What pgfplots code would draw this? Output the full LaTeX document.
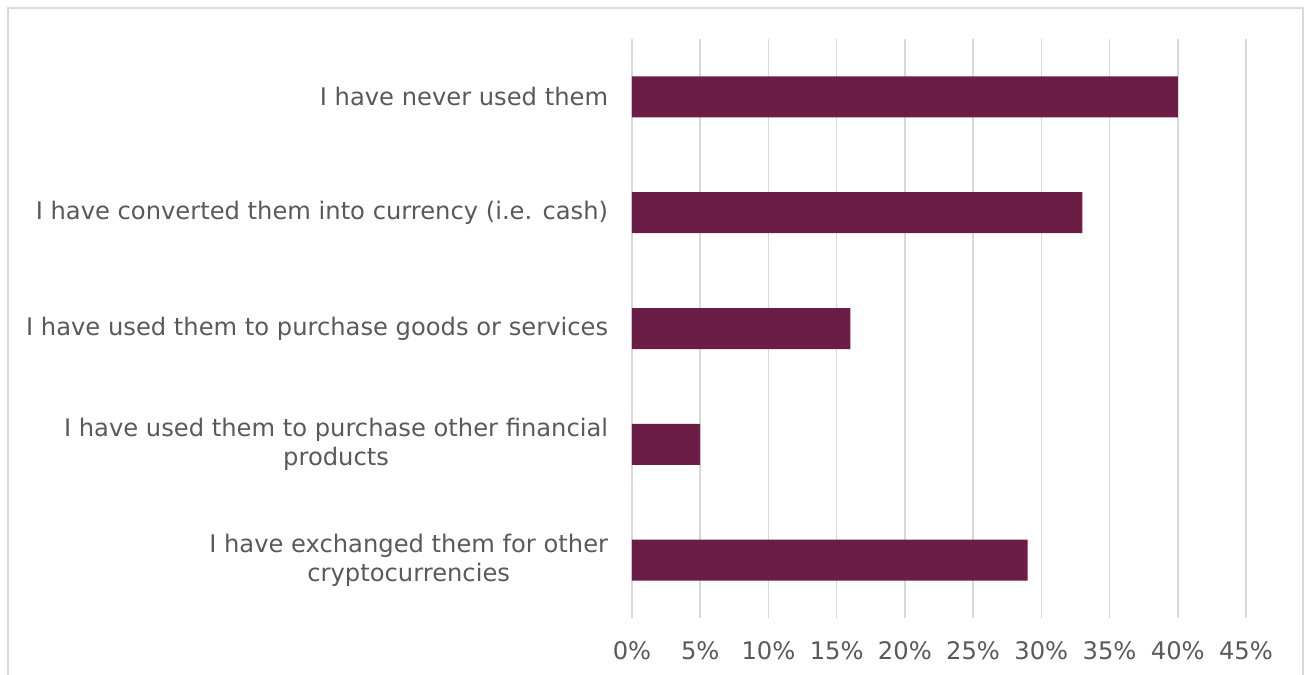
\documentclass[border=0pt]{standalone}
\usepackage{fontspec}
\setmainfont{DejaVu Sans}
\usepackage{pgfplots}
\pgfplotsset{compat=1.18}
\definecolor{barc}{HTML}{6B1D45}
\definecolor{txt}{HTML}{595959}
\definecolor{gridc}{HTML}{D9D9D9}
\begin{document}
\fontsize{12bp}{14.5bp}\selectfont
\begin{tikzpicture}
\begin{scope}
\clip (-316bp,-28.5bp) rectangle (338bp,309bp);
\draw[gridc, line width=1bp] (-312bp,-40bp) rectangle (335.5bp,305bp);
\end{scope}
\begin{axis}[
  at={(0,0)}, anchor=south west,
  width=307bp, height=289.5bp, scale only axis,
  xmin=0, xmax=45, ymin=-0.5, ymax=4.5,
  xbar, bar width=20.5bp,
  xtick={0,5,...,45},
  xticklabel={\pgfmathprintnumber[assume math mode=true]{\tick}\%},
  xmajorgrids, grid style={gridc, line width=0.8bp},
  axis line style={draw=none}, tick style={draw=none},
  ytick={0,1,2,3,4},
  yticklabels={{I have exchanged them for other\\cryptocurrencies},
               {I have used them to purchase other financial\\products},
               {I have used them to purchase goods or services},
               {I have converted them into currency (i.e. cash)},
               {I have never used them}},
  y tick label style={align=center, anchor=east, inner sep=0pt, xshift=-7.5bp, text=txt, font=\fontsize{12.1bp}{14.5bp}\selectfont},
  x tick label style={anchor=center, inner sep=0pt, yshift=-16.5bp, text=txt, font=\fontsize{12.1bp}{14.5bp}\selectfont},
]
\addplot[fill=barc, draw=none] coordinates {(29,0) (5,1) (16,2) (33,3) (40,4)};
\end{axis}
\pgfresetboundingbox
\path[use as bounding box] (-316bp,-28.5bp) rectangle (338bp,309bp);
\end{tikzpicture}
\end{document}
